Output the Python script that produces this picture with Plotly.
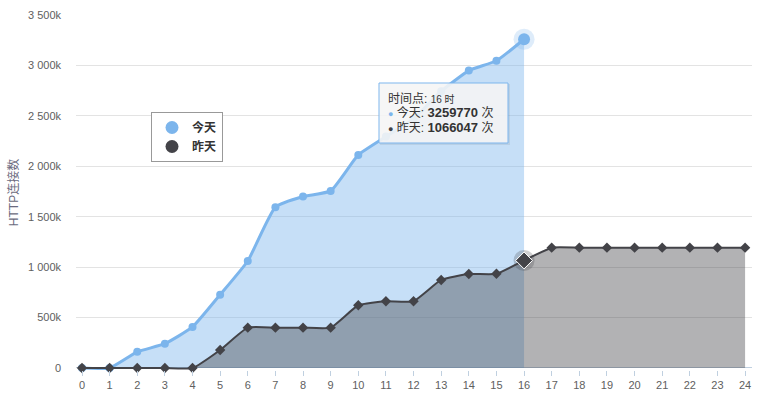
import plotly.graph_objects as go

# ---------------- data ----------------
hours_today = list(range(0, 17))
today = [0, 0, 160000, 241000, 407000, 727000, 1061000, 1594000, 1700000, 1756000,
         2113000, 2295000, 2470000, 2744000, 2949000, 3046000, 3259770]
hours_yesterday = list(range(0, 25))
yesterday = [0, 0, 0, 0, 0, 178000, 400000, 400000, 400000, 400000,
             622000, 662000, 662000, 873000, 932000, 934000, 1066047,
             1193000, 1193000, 1193000, 1193000, 1193000, 1193000, 1193000, 1193000]
series_names = ["今天", "昨天"]
y_tickvals = [0, 500000, 1000000, 1500000, 2000000, 2500000, 3000000, 3500000]
y_ticktext = ["0", "500k", "1 000k", "1 500k", "2 000k", "2 500k", "3 000k", "3 500k"]
x_tickvals = list(range(0, 25))
hover_hour = 16
y_title = "HTTP连接数"

# ---------------- style ----------------
C_TODAY = "#7cb5ec"
C_YEST = "#434348"
FONT = "Liberation Sans, Noto Sans CJK SC, sans-serif"
W, H = 760, 399
ML, MR, MT, MB = 76, 8, 15, 29
PW, PH = W - ML - MR, H - MT - MB
Y0, Y1 = -20000, 3500000
SMOOTH = 0.45


def px_x(p):
    return (p - ML) / PW


def px_y(p):
    return (H - MB - p) / PH


fig = go.Figure()

# today area
fig.add_trace(go.Scatter(
    x=hours_today, y=today, mode="lines+markers", name=series_names[0],
    fill="tozeroy", fillcolor="rgba(124,181,236,0.43)",
    line=dict(color=C_TODAY, width=3, shape="spline", smoothing=SMOOTH),
    marker=dict(symbol="circle", size=8, color=C_TODAY),
    cliponaxis=False, showlegend=False, hoverinfo="skip"))

# yesterday area
fig.add_trace(go.Scatter(
    x=hours_yesterday, y=yesterday, mode="lines+markers", name=series_names[1],
    fill="tozeroy", fillcolor="rgba(67,67,72,0.41)",
    line=dict(color=C_YEST, width=2, shape="spline", smoothing=SMOOTH),
    marker=dict(symbol="diamond", size=8, color=C_YEST),
    cliponaxis=False, showlegend=False, hoverinfo="skip"))

# hover state markers at hover_hour
fig.add_trace(go.Scatter(
    x=[hover_hour], y=[today[hover_hour]], mode="markers",
    marker=dict(symbol="circle", size=21, color="rgba(124,181,236,0.25)"),
    cliponaxis=False, showlegend=False, hoverinfo="skip"))
fig.add_trace(go.Scatter(
    x=[hover_hour], y=[today[hover_hour]], mode="markers",
    marker=dict(symbol="circle", size=12, color=C_TODAY),
    cliponaxis=False, showlegend=False, hoverinfo="skip"))
fig.add_trace(go.Scatter(
    x=[hover_hour], y=[yesterday[hover_hour]], mode="markers",
    marker=dict(symbol="circle", size=21, color="rgba(67,67,72,0.25)"),
    cliponaxis=False, showlegend=False, hoverinfo="skip"))
fig.add_trace(go.Scatter(
    x=[hover_hour], y=[yesterday[hover_hour]], mode="markers",
    marker=dict(symbol="diamond", size=13, color=C_YEST, line=dict(color="white", width=1)),
    cliponaxis=False, showlegend=False, hoverinfo="skip"))

# legend-only entries
for name, col in zip(series_names, [C_TODAY, C_YEST]):
    fig.add_trace(go.Scatter(
        x=[None], y=[None], mode="markers", name=name,
        marker=dict(symbol="circle", size=13, color=col), showlegend=True))

# tooltip box
tx0, tx1, ty0, ty1 = 379, 508, 83, 143
fig.add_shape(type="rect", xref="paper", yref="paper",
              x0=px_x(tx0 + 1), x1=px_x(tx1 + 2), y0=px_y(ty1 + 2), y1=px_y(ty0 + 1),
              fillcolor="rgba(0,0,0,0.07)", line=dict(width=0), layer="above")
fig.add_shape(type="rect", xref="paper", yref="paper",
              x0=px_x(tx0), x1=px_x(tx1), y0=px_y(ty1), y1=px_y(ty0),
              fillcolor="rgba(247,247,247,0.88)", line=dict(color=C_TODAY, width=1),
              layer="above")

tip_lines = [
    "<span style='font-size:12px'>时间点: </span><span style='font-size:10px'>%d 时</span>" % hover_hour,
    "<span style='color:%s;font-size:9px'>●</span><span style='font-size:12px'> %s: </span>"
    "<span style='font-size:13px'><b>%d</b></span><span style='font-size:12px'> 次</span>"
    % (C_TODAY, series_names[0], today[hover_hour]),
    "<span style='color:%s;font-size:9px'>●</span><span style='font-size:12px'> %s: </span>"
    "<span style='font-size:13px'><b>%d</b></span><span style='font-size:12px'> 次</span>"
    % (C_YEST, series_names[1], yesterday[hover_hour]),
]
fig.add_annotation(x=px_x(386), y=px_y(114), xref="paper", yref="paper",
                   text="<br>".join(tip_lines), showarrow=False,
                   xanchor="left", yanchor="middle", align="left",
                   font=dict(family=FONT, size=11, color="#333333"))

fig.update_layout(
    width=W, height=H,
    margin=dict(l=ML, r=MR, t=MT, b=MB, pad=0),
    plot_bgcolor="white", paper_bgcolor="white",
    font=dict(family=FONT, size=11, color="#606060"),
    showlegend=True,
    legend=dict(x=px_x(151), y=px_y(112), xanchor="left", yanchor="top",
                bgcolor="white", bordercolor="#999999", borderwidth=1,
                font=dict(family=FONT, size=12, color="#333333", weight="bold"),
                tracegroupgap=0),
    hovermode=False,
)
fig.update_xaxes(
    range=[-0.217, 24.25], tickvals=x_tickvals, ticktext=[str(v) for v in x_tickvals],
    showgrid=False, zeroline=False, showline=False,
    ticks="outside", ticklen=5, tickcolor="#C0D0E0", tickwidth=1,
    tickfont=dict(family=FONT, size=11, color="#606060"), fixedrange=True)
fig.update_yaxes(
    range=[Y0, Y1], tickvals=y_tickvals, ticktext=y_ticktext,
    showgrid=True, gridcolor="#e3e3e3", gridwidth=1,
    zeroline=True, zerolinecolor="#C0D0E0", zerolinewidth=1,
    showline=False, ticks="", ticklabelstandoff=14,
    tickfont=dict(family=FONT, size=11, color="#606060"),
    title=dict(text=y_title, standoff=6, font=dict(family=FONT, size=12, color="#6b6b80")),
    automargin=False, fixedrange=True)

fig.write_html("out.html", config={"displayModeBar": False},
               post_script="document.body.style.margin='0px';document.body.style.overflow='hidden';")
